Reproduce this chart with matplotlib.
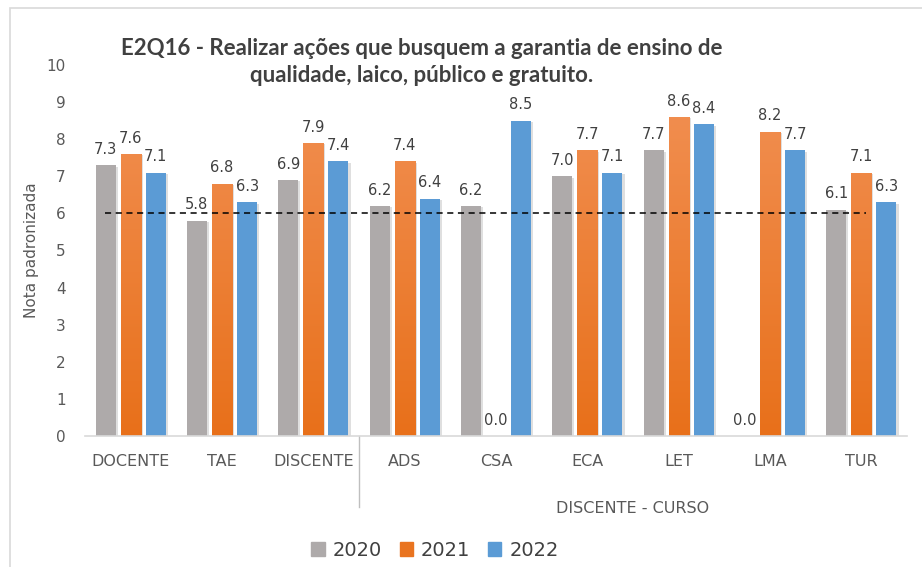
import matplotlib
matplotlib.use("Agg")
import matplotlib.pyplot as plt
import numpy as np
from matplotlib.colors import LinearSegmentedColormap
from matplotlib.patches import Rectangle
from matplotlib.lines import Line2D
import matplotlib.patheffects as pe

categories = ["DOCENTE", "TAE", "DISCENTE", "ADS", "CSA", "ECA", "LET", "LMA", "TUR"]
years = ["2020", "2021", "2022"]
values_2020 = [7.3, 5.8, 6.9, 6.2, 6.2, 7.0, 7.7, 0.0, 6.1]
values_2021 = [7.6, 6.8, 7.9, 7.4, 0.0, 7.7, 8.6, 8.2, 7.1]
values_2022 = [7.1, 6.3, 7.4, 6.4, 8.5, 7.1, 8.4, 7.7, 6.3]
reference_line = 6.0
group_label = "DISCENTE - CURSO"
title = "E2Q16 - Realizar ações que busquem a garantia de ensino de\nqualidade, laico, público e gratuito."

W, H = 922, 567
fig = plt.figure(figsize=(W / 100, H / 100), dpi=100)
ax = fig.add_axes([85 / W, 1 - 436 / H, (907 - 85) / W, (436 - 65) / H])

# chart border (Excel chart area)
fig.patches.append(Rectangle((10 / W, -0.1), 1.2, 1 - 8 / H + 0.1, transform=fig.transFigure,
                             fill=False, edgecolor="#D9D9D9", linewidth=1.2))

x = np.arange(len(categories))
bw = 0.22
step = 0.275
gray = "#AEAAAA"
blue = "#5B9BD5"
orange_cmap = LinearSegmentedColormap.from_list("org", ["#E8701A", "#F29257"])
shadow = [pe.SimplePatchShadow(offset=(1.5, -1.0), alpha=0.25, shadow_rgbFace="#808080"), pe.Normal()]

series = [values_2020, values_2021, values_2022]
for k, vals in enumerate(series):
    xs = x + (k - 1) * step
    if k == 0:
        bars = ax.bar(xs, vals, bw, color=gray, zorder=2)
    elif k == 2:
        bars = ax.bar(xs, vals, bw, color=blue, zorder=2)
    else:
        bars = ax.bar(xs, vals, bw, color="#E97420", zorder=2)
        grad = np.linspace(0, 1, 256).reshape(-1, 1)
        for b in bars:
            h = b.get_height()
            if h <= 0:
                continue
            im = ax.imshow(grad, cmap=orange_cmap, origin="lower", aspect="auto",
                           extent=[b.get_x(), b.get_x() + b.get_width(), 0, 10],
                           vmin=0, vmax=1, zorder=2.5)
            im.set_clip_path(b)
    for b in bars:
        b.set_path_effects(shadow)
    for xi, v in zip(xs, vals):
        ax.annotate(f"{v:.1f}", (xi, v), xytext=(0, 6), textcoords="offset points",
                    ha="center", va="bottom", fontsize=10.5, color="#404040", zorder=4)

ax.hlines(reference_line, -0.28, 8.05, colors="black", linestyles=(0, (4, 3)),
          linewidth=1.1, zorder=3)

ax.set_xlim(-0.5, len(categories) - 0.5)
ax.set_ylim(0, 10)
ax.set_yticks(range(0, 11))
ax.tick_params(axis="y", length=0, pad=14, labelsize=11, labelcolor="#595959")
ax.set_xticks(x)
ax.set_xticklabels(categories)
ax.tick_params(axis="x", length=0, pad=13, labelsize=11.5, labelcolor="#595959")
for s in ["left", "right", "top"]:
    ax.spines[s].set_visible(False)
ax.spines["bottom"].set_color("#D9D9D9")
ax.spines["bottom"].set_linewidth(1.2)

# group separator and second-level label
ax.add_line(Line2D([2.5, 2.5], [0, -1.92], color="#BFBFBF", linewidth=1.0,
                   clip_on=False, transform=ax.transData))
ax.text((3 + 8) / 2, -1.95, group_label, ha="center", va="center",
        fontsize=11.5, color="#595959")

ax.set_ylabel("Nota padronizada", fontsize=11, color="#595959")
ax.yaxis.set_label_coords(-46 / (907 - 85), 0.5)

fig.text(422 / W, 1 - 62 / H, title, ha="center", va="center", fontsize=16,
         fontweight="bold", color="#404040", family="Lato", linespacing=1.4)

handles = [Rectangle((0, 0), 1, 1, color=c) for c in [gray, "#E97420", blue]]
fig.legend(handles, years, loc="center", bbox_to_anchor=(435 / W, 1 - 550 / H), ncol=3,
           frameon=False, fontsize=14, handlelength=0.7, handleheight=0.7,
           handletextpad=0.4, columnspacing=0.9, labelcolor="#404040")

fig.savefig("out.png", dpi=100)
